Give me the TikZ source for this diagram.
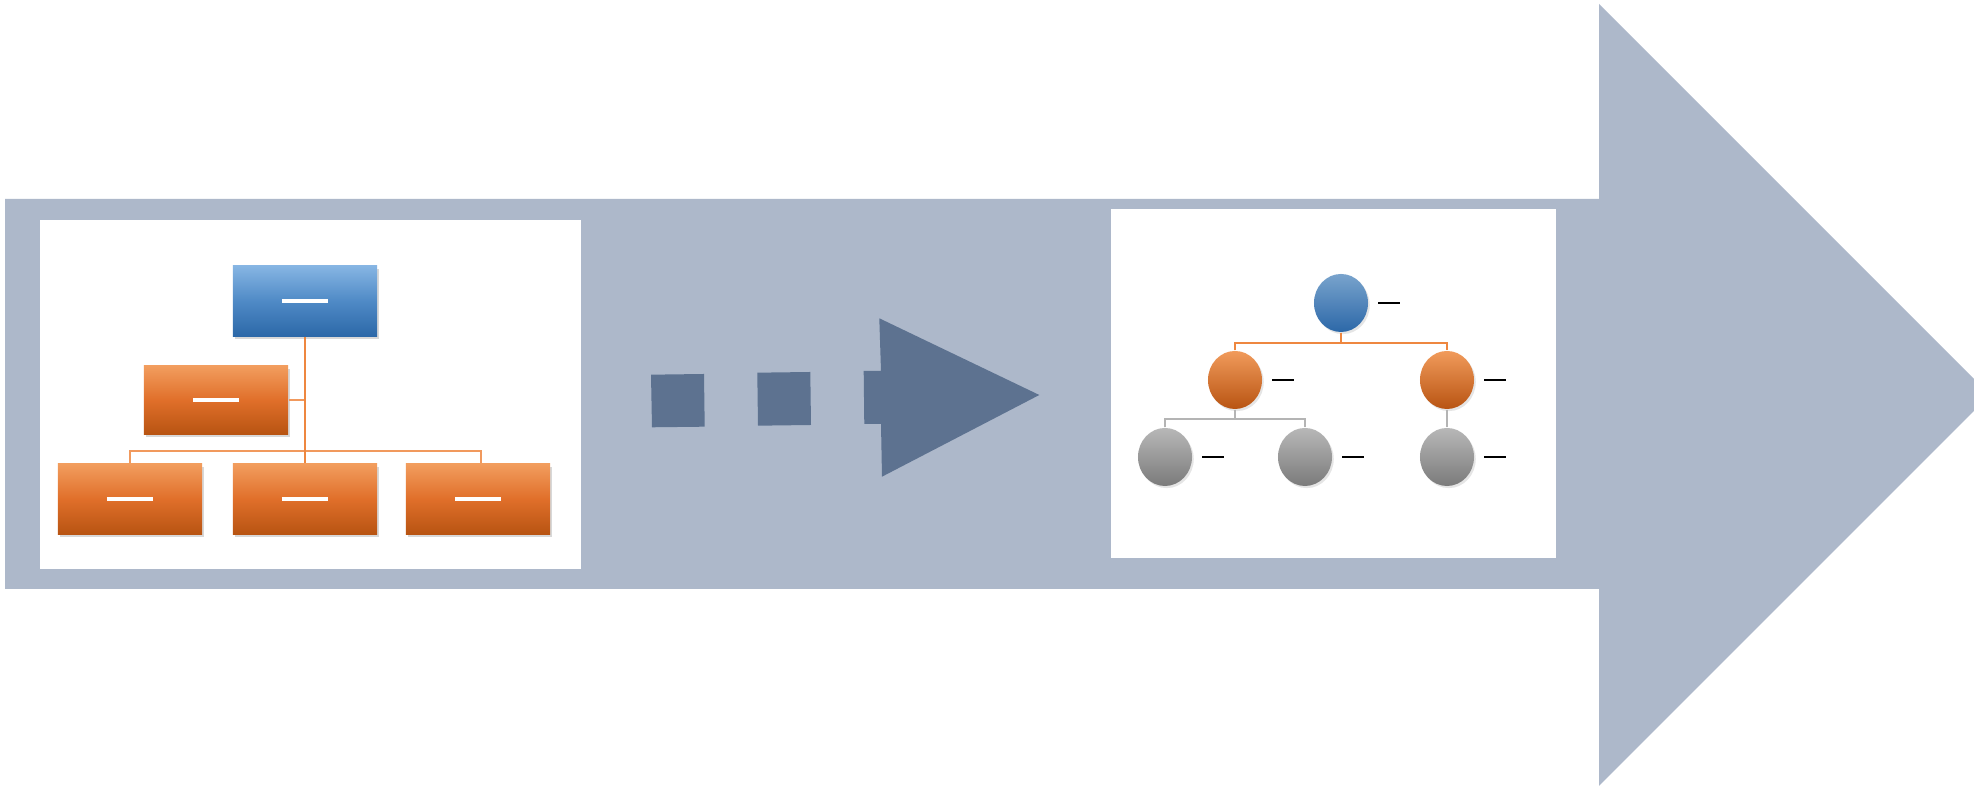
\documentclass[tikz,border=0pt]{standalone}
\usepackage{xcolor}
\usepackage{tikz}
\usetikzlibrary{shapes,shapes.geometric,arrows,positioning,calc,shadows}

\definecolor{bandgray}{HTML}{ADB8CA}
\definecolor{markblue}{HTML}{5D7290}
\definecolor{orgtop}{HTML}{F29D5E}
\definecolor{orgmid}{HTML}{E06F2A}
\definecolor{orgbot}{HTML}{B85412}
\definecolor{bosstop}{HTML}{86B5E3}
\definecolor{bossmid}{HTML}{4F8AC6}
\definecolor{bossbot}{HTML}{2C68A8}
\definecolor{linkorange}{HTML}{EE8740}
\definecolor{linkgray}{HTML}{B4B4B4}

\begin{document}
\begin{tikzpicture}[x=0.01cm, y=-0.01cm, node distance=0.3cm,
  orgbox/.style={rectangle, inner sep=0pt, minimum width=1.44cm, minimum height=0.70cm,
    top color=orgtop, bottom color=orgbot, middle color=orgmid,
    drop shadow={opacity=0.3, shadow xshift=0.6pt, shadow yshift=-0.8pt}},
  bossbox/.style={orgbox, top color=bosstop, bottom color=bossbot, middle color=bossmid},
  treenode/.style={ellipse, inner sep=0pt, minimum width=0.54cm, minimum height=0.58cm,
    drop shadow={opacity=0.2, shadow xshift=0.5pt, shadow yshift=-0.6pt},
    label={[inner sep=0pt, label distance=0.09cm]right:\rule{0.22cm}{0.02cm}}},
  rootnode/.style={treenode, top color=bosstop!90!black, bottom color=bossbot},
  midnode/.style={treenode, top color=orgtop!95!orgmid, bottom color=orgbot},
  leafnode/.style={treenode, top color=black!28, bottom color=black!52},
  orgline/.style={draw=linkorange, line width=0.8pt},
  busline/.style={draw=linkorange!85, line width=0.6pt},
  treeline/.style={draw=linkorange, line width=0.6pt},
  leafline/.style={draw=linkgray, line width=0.6pt}]

\path[use as bounding box, fill=white] (0,0) rectangle (1974,786);
\clip (0,0) rectangle (1974,786);

\fill[bandgray] (5,199) -- (1599,199) -- (1599,4) -- (1990,395) -- (1599,786) -- (1599,589) -- (5,589) -- cycle;

\fill[white] (40,220) rectangle (581,569);
\fill[white] (1111,209) rectangle (1556,558);

\fill[markblue] (651,374.7) -- (704,374) -- (704.7,426.7) -- (652,427.3) -- cycle;
\fill[markblue] (757.3,372.7) -- (810.3,372) -- (811,425) -- (758,425.7) -- cycle;
\fill[markblue] (863.7,371) -- (881,371) -- (879.3,318.3) -- (1039.3,395) -- (882,476.7) -- (881,424) -- (864.3,424) -- cycle;

\coordinate (bus) at (305,451);
\node[bossbox] (boss) at (305,301) {\color{white}\rule{0.46cm}{0.04cm}};
\node[orgbox, minimum height=0.68cm] (assist) at (216,400) {\color{white}\rule{0.46cm}{0.04cm}};
\node[orgbox] (left) at (130,499) {\color{white}\rule{0.46cm}{0.04cm}};
\node[orgbox] (centre) at (305,499) {\color{white}\rule{0.46cm}{0.04cm}};
\node[orgbox] (right) at (478,499) {\color{white}\rule{0.46cm}{0.04cm}};

\draw[busline] (left.north) |- (bus) -| ([xshift=0.03cm]right.north);
\draw[busline] (assist.east) -- (assist.east -| boss.south);
\draw[orgline] (boss.south) -- (centre.north);

\coordinate (topbus) at (1341,343);
\coordinate (lowbus) at (1235,419);
\node[rootnode] (root) at (1341,303) {};
\node[midnode] (leftmid) at (1235,380) {};
\node[midnode] (rightmid) at (1447,380) {};
\node[leafnode] (leafa) at (1165,457) {};
\node[leafnode] (leafb) at (1305,457) {};
\node[leafnode] (leafc) at (1447,457) {};

\draw[treeline] (root.south) -- (topbus);
\draw[treeline] (leftmid.north) |- (topbus) -| (rightmid.north);
\draw[leafline] (leftmid.south) -- (lowbus);
\draw[leafline] (leafa.north) |- (lowbus) -| (leafb.north);
\draw[leafline] (rightmid.south) -- (leafc.north);

\end{tikzpicture}
\end{document}
